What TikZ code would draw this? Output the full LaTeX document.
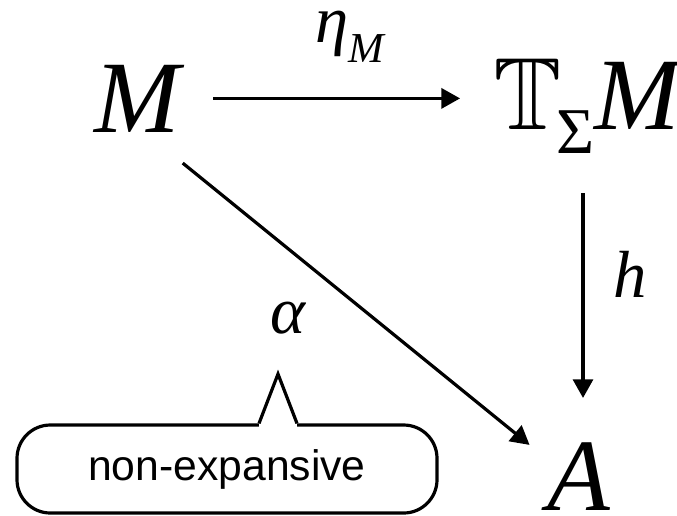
\documentclass[tikz,border=0pt]{standalone}
\usepackage{amssymb}
\usepackage{fontspec}
\setmainfont{Liberation Serif}
\newfontfamily\notefont{Liberation Sans}
\usetikzlibrary{positioning,arrows.meta}

\newcommand{\objfont}{\fontsize{77}{80}\selectfont\itshape}
\newcommand{\lblfont}{\fontsize{50}{56}\selectfont\itshape}
\newcommand{\subtxt}[2]{\raisebox{-#1}{\fontsize{32}{36}\selectfont #2}}

\begin{document}
\begin{tikzpicture}[x=0.75pt, y=-0.75pt,
  obj/.style={font=\objfont, anchor=base, inner sep=25pt},
  lbl/.style={font=\lblfont, anchor=base, inner sep=0pt},
  note/.style={draw, line width=2.4pt, rounded corners=25pt, minimum width=315pt, minimum height=66pt, font=\notefont\fontsize{32}{36}\selectfont},
  arr/.style={-{Triangle[length=14pt,width=15pt]}, line width=2.4pt}
]
\useasboundingbox (0,0) rectangle (677,515);

\node[obj] (m) at (137,132) {M};
\node[obj] (tm) at (587,129) {\upshape$\mathbb{T}$\kern-4pt\raisebox{-18pt}{\fontsize{49}{52}\selectfont\upshape Σ}\itshape M};
\node[obj] (a) at (579,510) {A};

\draw[arr] (m.east) -- (m.east -| tm.west);
\draw[arr, shorten <=5pt, shorten >=8pt] (tm.south -| 583,0) -- (a.north -| 583,0);
\draw[arr, shorten <=-3pt, shorten >=-15pt] (m.-54) -- (a.146);

\node[lbl] (eta) at (350,42) {η\subtxt{15pt}{M}};
\node[lbl] (h) at (630,297) {h};
\node[lbl] (alpha) at (288,333) {α};

% callout
\node[note] (bubble) at (227,469) {non-expansive};
\coordinate (tip) at (278,374);
\fill[white] ([xshift=24pt, yshift=-3pt]bubble.north) rectangle ([xshift=52.5pt, yshift=3pt]bubble.north);
\draw[line width=2.4pt, miter limit=20] ([xshift=24pt]bubble.north) -- (tip) -- ([xshift=52.5pt]bubble.north);
\end{tikzpicture}
\end{document}
